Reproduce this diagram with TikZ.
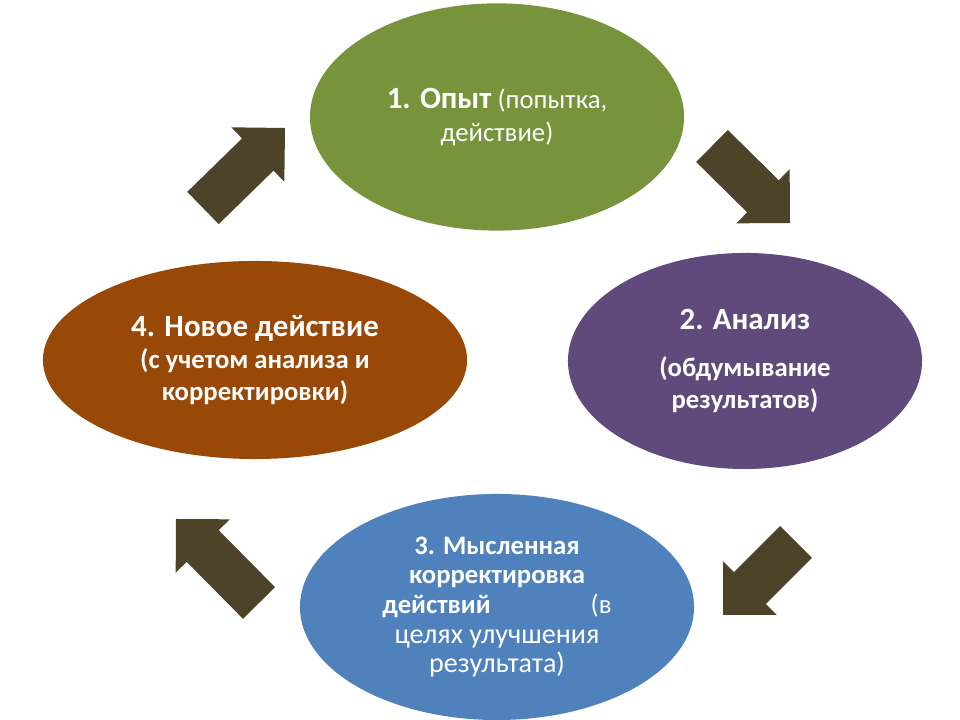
\documentclass[tikz,border=0pt]{standalone}
\usepackage{fontspec}
\setmainfont{Carlito}
\usetikzlibrary{shapes.geometric, calc, positioning}
\definecolor{opytgreen}{HTML}{77933C}
\definecolor{analizviolet}{HTML}{604A7B}
\definecolor{korrektblue}{HTML}{4F81BD}
\definecolor{novoebrown}{HTML}{984807}
\definecolor{arrowdark}{HTML}{4D4329}
\tikzstyle{stage} = [ellipse, inner sep=0pt, text=white, align=center, font=\bfseries\fontsize{19}{23}\selectfont]
\newcommand{\headsize}{\fontsize{22}{23}\selectfont}
\newcommand{\lighttext}{\mdseries\fontsize{20}{21}\selectfont}
% fat block arrow from #1 (tail) to #2 (tip)
\newcommand{\blockarrow}[2]{%
  \coordinate (#2base) at ($(#2)!0.95cm!(#1)$);
  \fill [arrowdark] ($(#1)!0.5625cm!90:(#2)$) -- ($(#2base)!0.5625cm!-90:(#1)$)
    -- ($(#2base)!0.95cm!-90:(#1)$) -- (#2) -- ($(#2base)!0.95cm!90:(#1)$)
    -- ($(#2base)!0.5625cm!90:(#1)$) -- ($(#1)!0.5625cm!-90:(#2)$) -- cycle;}

\begin{document}
\begin{tikzpicture}[x=0.025cm, y=0.025cm]
\useasboundingbox [fill=white] (0,0) rectangle (960,720);
\node [stage, fill=opytgreen, minimum width=9.35cm, minimum height=5.68cm] (opyt) at (497,603) {{\headsize 1. Опыт} {\mdseries(попытка,}\\ \mdseries действие)};
\node [stage, fill=analizviolet, minimum width=8.85cm, minimum height=5.4cm] (analiz) at (745,359) {{\headsize 2. Анализ}\\[10pt](обдумывание\\результатов)};
\node [stage, fill=korrektblue, minimum width=9.85cm, minimum height=5.65cm, font=\bfseries\fontsize{19}{21}\selectfont] (korrekt) at (497,113) {3. Мысленная\\корректировка\\действий\hspace{2.5cm}{\mdseries(в}\\ \lighttext целях улучшения\\ \lighttext результата)};
\node [stage, fill=novoebrown, minimum width=10.6cm, minimum height=4.95cm] (novoe) at (255,360) {{\headsize 4. Новое действие}\\(с учетом анализа и\\корректировки)};
% arrow ends between the stages
\coordinate (novoeout) at (203,512);
\coordinate (opytin) at (285,592);
\coordinate (opytout) at (712,574);
\coordinate (analizin) at (790,497);
\coordinate (analizout) at (796,178);
\coordinate (korrektin) at (723,105);
\coordinate (korrektout) at (259,117);
\coordinate (novoein) at (176,201);
\blockarrow{novoeout}{opytin}
\blockarrow{opytout}{analizin}
\blockarrow{analizout}{korrektin}
\blockarrow{korrektout}{novoein}
\end{tikzpicture}
\end{document}
